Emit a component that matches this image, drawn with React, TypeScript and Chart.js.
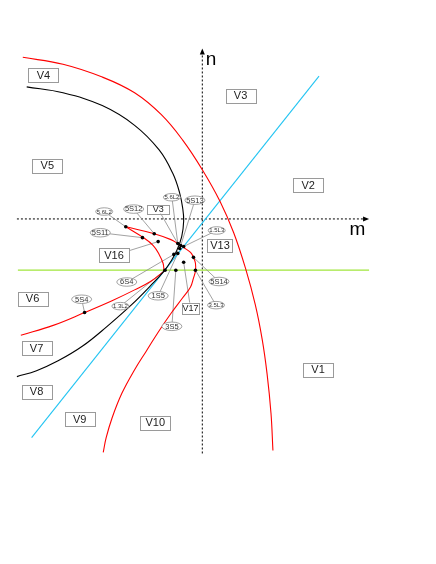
import React, { useEffect, useRef } from "react";
import { Chart, registerables } from "chart.js";

Chart.register(...registerables);

// Coordinates in (m, n) units; the dotted axes cross at (0, 0).
const X_MIN = -19.4;
const X_MAX = 22.6;
const Y_MIN = -33.8;
const Y_MAX = 21.0;

const redOuter: [number, number][] = [
  [-18.3, 16.4], [-14.2, 15.7], [-10.2, 14.4], [-6.9, 12.8], [-4.2, 10.6],
  [-2.0, 8.0], [0, 5.0], [1.8, 1.8], [3.2, -1.4], [4.4, -5.0], [5.4, -8.7],
  [6.1, -12.2], [6.6, -15.7], [7.0, -19.7], [7.2, -23.5],
];

const blackCurve: [number, number][] = [
  [-17.9, 13.4], [-14.2, 12.8], [-10.2, 11.5], [-6.9, 9.5], [-4.4, 7.0],
  [-3.0, 4.6], [-2.3, 2.6], [-2.0, 1.1], [-1.9, -0.2], [-2.1, -1.8],
  [-2.6, -3.2], [-3.2, -4.3], [-3.9, -5.3], [-5.2, -6.7], [-7.2, -8.7],
  [-9.7, -10.9], [-12.2, -12.9], [-14.7, -14.4], [-16.9, -15.4], [-18.9, -16.0],
];

const redLowerLeft: [number, number][] = [
  [-18.5, -11.8], [-15.2, -10.8], [-12.0, -9.5], [-9.2, -8.3], [-6.9, -7.2],
  [-5.2, -6.3], [-3.9, -5.3],
];

const redCuspArc: [number, number][] = [
  [-3.9, -5.3], [-4.0, -4.5], [-4.4, -3.6], [-5.0, -2.7], [-6.0, -1.9], [-7.8, -0.8],
];

const redInnerDown: [number, number][] = [
  [-7.8, -0.8], [-4.9, -1.5], [-3.2, -2.1], [-2.5, -2.5], [-1.9, -2.9],
  [-1.2, -3.4], [-0.9, -3.9], [-0.7, -4.5], [-0.7, -5.3], [-0.9, -6.0],
  [-1.2, -6.9], [-2.0, -8.0], [-3.2, -9.6], [-4.5, -11.5], [-5.7, -13.4],
  [-6.9, -15.3], [-8.2, -17.7], [-9.2, -20.2], [-9.8, -22.2], [-10.1, -23.7],
];

const cyanLine: [number, number][] = [[-17.4, -22.2], [11.9, 14.5]];
const greenLine: [number, number][] = [[-18.8, -5.2], [17.0, -5.2]];
const mAxis: [number, number][] = [[-18.9, 0], [16.7, 0]];
const nAxis: [number, number][] = [[0, -23.8], [0, 16.9]];
const mArrowTip: [number, number] = [17.0, 0];
const nArrowTip: [number, number] = [0, 17.3];
const mLabelAt: [number, number] = [15.6, -1.1];
const nLabelAt: [number, number] = [0.9, 16.2];

const dots: [number, number][] = [
  [-7.8, -0.8], [-4.9, -1.5], [-6.1, -1.9], [-4.5, -2.3], [-2.5, -2.5],
  [-2.2, -2.7], [-1.9, -2.8], [-2.3, -3.0], [-2.9, -3.6], [-2.5, -3.5],
  [-0.9, -3.9], [-1.9, -4.4], [-3.8, -5.2], [-2.7, -5.2], [-0.7, -5.2],
  [-12.0, -9.5],
];

// Region boxes
const regionText: string[] = ["V4", "V3", "V5", "V2", "V6", "V7", "V1", "V8", "V9", "V10", "V16", "V13"];
const regionAt: [number, number][] = [
  [-16.2, 14.6], [3.9, 12.5], [-15.8, 5.4], [10.8, 3.4], [-17.3, -8.1],
  [-16.9, -13.1], [11.8, -15.3], [-16.9, -17.55], [-12.5, -20.3], [-4.8, -20.7],
  [-9.0, -3.7], [1.8, -2.7],
];

// Small region boxes with pointers
const smallRegionText: string[] = ["V3", "V17"];
const smallRegionAt: [number, number][] = [[-4.5, 1.0], [-1.2, -9.05]];

// Oval labels
const ovalText: string[] = [
  "5.6L2", "5S12", "5.6L2", "5S13", "5S11", "1.5L3", "6S4", "5S14",
  "1S5", "5S4", "1.3L2", "3.5L3", "3S5",
];
const ovalAt: [number, number][] = [
  [-10.0, 0.75], [-7.0, 1.0], [-3.1, 2.2], [-0.75, 1.9], [-10.4, -1.4],
  [1.47, -1.17], [-7.7, -6.4], [1.7, -6.35], [-4.5, -7.8], [-12.3, -8.15],
  [-8.35, -8.85], [1.4, -8.75], [-3.1, -10.9],
];
const ovalTarget: [number, number][] = [
  [-7.8, -0.8], [-4.9, -1.5], [-2.5, -2.5], [-2.2, -2.7], [-6.1, -1.9],
  [-1.9, -2.8], [-2.9, -3.6], [-0.9, -3.9], [-2.5, -3.5], [-12.0, -9.5],
  [-3.8, -5.2], [-0.7, -5.2], [-2.7, -5.2],
];

// Pointers from region boxes
const boxPointerFrom: [number, number][] = [[-4.5, 1.0], [-1.2, -9.05], [-9.0, -3.7]];
const boxPointerTo: [number, number][] = [[-2.5, -2.5], [-1.9, -4.4], [-4.5, -2.3]];

const FONT = "'Liberation Sans', Arial, sans-serif";

export default function App() {
  const ref = useRef<HTMLCanvasElement>(null);

  useEffect(() => {
    const canvas = ref.current;
    if (!canvas) return;
    const toXY = (a: [number, number][]) => a.map(([x, y]) => ({ x, y }));
    const line = (data: [number, number][], color: string, width: number, extra: any = {}) => ({
      data: toXY(data),
      showLine: true,
      borderColor: color,
      backgroundColor: color,
      borderWidth: width,
      pointRadius: 0,
      tension: 0.4,
      ...extra,
    });

    const leaderSets: any[] = [];
    ovalAt.forEach((p, i) => {
      leaderSets.push(line([p, ovalTarget[i]], "#8a8a8a", 0.8, { tension: 0 }));
    });
    boxPointerFrom.forEach((p, i) => {
      leaderSets.push(line([p, boxPointerTo[i]], "#8a8a8a", 0.8, { tension: 0 }));
    });

    const datasets: any[] = [
      { data: toXY(dots), pointRadius: 1.8, pointBorderWidth: 0, backgroundColor: "#000", borderColor: "#000", showLine: false },
      line(redOuter, "#ff0000", 1.1),
      line(blackCurve, "#000000", 1.1),
      line(redLowerLeft, "#ff0000", 1.1),
      line(redCuspArc, "#ff0000", 1.1),
      line(redInnerDown, "#ff0000", 1.1),
      line(cyanLine, "#22c4f2", 1.1, { tension: 0 }),
      ...leaderSets,
      line(greenLine, "#a0e63c", 1.2, { tension: 0 }),
      line(mAxis, "#000", 1, { tension: 0, borderDash: [2, 2] }),
      line(nAxis, "#000", 1, { tension: 0, borderDash: [2, 2] }),
    ];

    const labelPlugin = {
      id: "diagramLabels",
      afterDatasetsDraw(chart: any) {
        const ctx: CanvasRenderingContext2D = chart.ctx;
        const xs = chart.scales.x;
        const ys = chart.scales.y;
        const px = (p: [number, number]) => [xs.getPixelForValue(p[0]), ys.getPixelForValue(p[1])];
        ctx.save();

        // arrowheads
        const [mx, my] = px(mArrowTip);
        ctx.fillStyle = "#000";
        ctx.beginPath();
        ctx.moveTo(mx, my);
        ctx.lineTo(mx - 6, my - 2.5);
        ctx.lineTo(mx - 6, my + 2.5);
        ctx.closePath();
        ctx.fill();
        const [nx, ny] = px(nArrowTip);
        ctx.beginPath();
        ctx.moveTo(nx, ny);
        ctx.lineTo(nx - 2.5, ny + 6);
        ctx.lineTo(nx + 2.5, ny + 6);
        ctx.closePath();
        ctx.fill();

        // axis letters
        ctx.font = `19px ${FONT}`;
        ctx.textAlign = "center";
        ctx.textBaseline = "middle";
        const [lmx, lmy] = px(mLabelAt);
        ctx.fillText("m", lmx + 2, lmy);
        const [lnx, lny] = px(nLabelAt);
        ctx.fillText("n", lnx, lny);

        // region boxes
        const drawBox = (text: string, p: [number, number], w: number, h: number, fs: number) => {
          const [cx, cy] = px(p);
          ctx.fillStyle = "#fff";
          ctx.fillRect(cx - w / 2, cy - h / 2, w, h);
          ctx.strokeStyle = "#9a9a9a";
          ctx.lineWidth = 1;
          ctx.strokeRect(Math.round(cx - w / 2) + 0.5, Math.round(cy - h / 2) + 0.5, w, h);
          ctx.fillStyle = "#222";
          ctx.font = `${fs}px ${FONT}`;
          ctx.fillText(text, cx, cy + 0.5);
        };
        regionText.forEach((t, i) => {
          const narrow = t === "V13";
          drawBox(t, regionAt[i], narrow ? 25 : 30, narrow ? 13 : 14, 11);
        });
        smallRegionText.forEach((t, i) => {
          drawBox(t, smallRegionAt[i], t === "V3" ? 22 : 17, t === "V3" ? 9 : 11, 9);
        });

        // ovals
        ovalText.forEach((t, i) => {
          const [cx, cy] = px(ovalAt[i]);
          const isL = t.includes("L");
          const w = isL ? 17 : 20;
          const h = isL ? 7.5 : 8.5;
          ctx.beginPath();
          ctx.ellipse(cx, cy, w / 2, h / 2, 0, 0, Math.PI * 2);
          ctx.fillStyle = "#fff";
          ctx.fill();
          ctx.strokeStyle = "#8a8a8a";
          ctx.lineWidth = 0.8;
          ctx.stroke();
          ctx.fillStyle = "#333";
          ctx.font = `${isL ? 6 : 7.5}px ${FONT}`;
          ctx.fillText(t, cx, cy + 0.3);
        });
        ctx.restore();
      },
    };

    const chart = new Chart(canvas, {
      type: "scatter",
      data: { datasets },
      options: {
        animation: false,
        responsive: false,
        events: [],
        layout: { padding: 0 },
        plugins: { legend: { display: false }, tooltip: { enabled: false } },
        scales: {
          x: { type: "linear", display: false, min: X_MIN, max: X_MAX },
          y: { type: "linear", display: false, min: Y_MIN, max: Y_MAX },
        },
      },
      plugins: [labelPlugin],
    } as any);
    return () => chart.destroy();
  }, []);

  return <canvas ref={ref} width={420} height={548} style={{ display: "block" }} />;
}
